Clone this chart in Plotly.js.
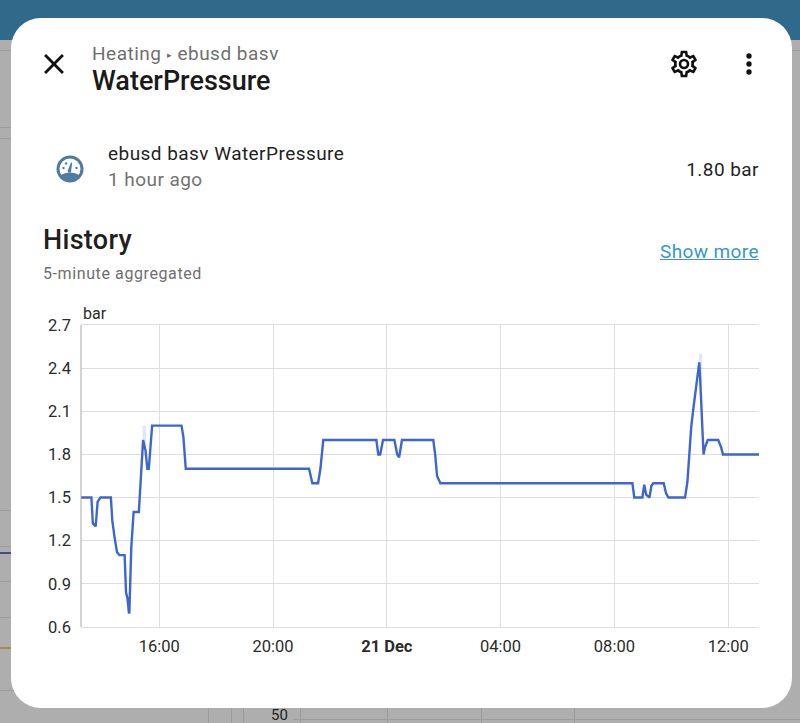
<!DOCTYPE html>
<html><head><meta charset="utf-8">
<script src="https://cdn.plot.ly/plotly-3.0.1.min.js"></script>
<style>
html,body{margin:0;padding:0;width:800px;height:723px;overflow:hidden;background:#aeaeae;font-family:Roboto,sans-serif}
#top{position:absolute;left:0;top:0;width:800px;height:40px;background:#2f6a8b}
.bg{position:absolute;background:#9c9c9c}
#card{position:absolute;left:11px;top:18px;width:781px;height:690px;background:#fff;border-radius:30px}
.t{position:absolute;white-space:nowrap;line-height:1}
#chart{position:absolute;left:0;top:0;width:800px;height:723px}
svg{position:absolute}
</style></head><body>
<div id="top"></div>
<div class="bg" style="left:0;top:50px;width:800px;height:1px"></div>
<div class="bg" style="left:0;top:127px;width:11px;height:1px"></div>
<div class="bg" style="left:0;top:138px;width:11px;height:1px"></div>
<div class="bg" style="left:0;top:510px;width:11px;height:1px"></div>
<div class="bg" style="left:0;top:546px;width:11px;height:1px"></div>
<div class="bg" style="left:0;top:581px;width:11px;height:1px"></div>
<div class="bg" style="left:0;top:617px;width:11px;height:1px"></div>
<div class="bg" style="left:0;top:690px;width:30px;height:1px"></div>
<div class="bg" style="left:0;top:552px;width:11px;height:2px;background:#3f4f8e"></div>
<div class="bg" style="left:0;top:647px;width:11px;height:2px;background:#a98a45"></div>
<div class="bg" style="left:293px;top:719px;width:507px;height:1px"></div>
<div class="bg" style="left:208px;top:708px;width:1px;height:15px"></div>
<div class="bg" style="left:231px;top:708px;width:1px;height:15px"></div>
<div class="bg" style="left:243px;top:708px;width:1px;height:15px"></div>
<div class="bg" style="left:300px;top:708px;width:1px;height:15px"></div>
<div class="bg" style="left:387px;top:708px;width:1px;height:15px"></div>
<div class="bg" style="left:481px;top:708px;width:1px;height:15px"></div>
<div class="bg" style="left:574px;top:708px;width:1px;height:15px"></div>
<div class="t" style="left:271px;top:708px;font-size:15px;color:#222">50</div>
<div id="card"></div>

<svg style="left:37px;top:47px" width="34" height="34" viewBox="0 0 24 24"><path fill="#111" d="M19,6.41L17.59,5L12,10.59L6.41,5L5,6.41L10.59,12L5,17.59L6.41,19L12,13.41L17.59,19L19,17.59L13.41,12L19,6.41Z"/></svg>
<div class="t" style="left:92px;top:44px;font-size:19px;letter-spacing:.5px;color:#6f6f6f">Heating <span style="font-size:9px;vertical-align:2px">▸</span> ebusd basv</div>
<div class="t" style="left:92px;top:68px;font-size:27px;font-weight:500;color:#1a1a1a">WaterPressure</div>
<svg style="left:668px;top:48px" width="32" height="32" viewBox="0 0 24 24"><path fill="#111" d="M12,8A4,4 0 0,1 16,12A4,4 0 0,1 12,16A4,4 0 0,1 8,12A4,4 0 0,1 12,8M12,10A2,2 0 0,0 10,12A2,2 0 0,0 12,14A2,2 0 0,0 14,12A2,2 0 0,0 12,10M10,22C9.75,22 9.54,21.82 9.5,21.58L9.13,18.93C8.5,18.68 7.96,18.34 7.44,17.94L4.95,18.95C4.73,19.03 4.46,18.95 4.34,18.73L2.34,15.27C2.21,15.05 2.27,14.78 2.46,14.63L4.57,12.97L4.5,12L4.57,11L2.46,9.37C2.27,9.22 2.21,8.95 2.34,8.73L4.34,5.27C4.46,5.05 4.73,4.96 4.95,5.05L7.44,6.05C7.96,5.66 8.5,5.32 9.13,5.07L9.5,2.42C9.54,2.18 9.75,2 10,2H14C14.25,2 14.46,2.18 14.5,2.42L14.87,5.07C15.5,5.32 16.04,5.66 16.56,6.05L19.05,5.05C19.27,4.96 19.54,5.05 19.66,5.27L21.66,8.73C21.79,8.95 21.73,9.22 21.54,9.37L19.43,11L19.5,12L19.43,13L21.54,14.63C21.73,14.78 21.79,15.05 21.66,15.27L19.66,18.73C19.54,18.95 19.27,19.04 19.05,18.95L16.56,17.95C16.04,18.34 15.5,18.68 14.87,18.93L14.5,21.58C14.46,21.82 14.25,22 14,22H10M11.25,4L10.88,6.61C9.68,6.86 8.62,7.5 7.85,8.39L5.44,7.35L4.69,8.65L6.8,10.2C6.4,11.37 6.4,12.64 6.8,13.8L4.68,15.36L5.43,16.66L7.86,15.62C8.63,16.5 9.68,17.14 10.87,17.38L11.24,20H12.76L13.13,17.39C14.32,17.14 15.37,16.5 16.14,15.62L18.57,16.66L19.32,15.36L17.2,13.81C17.6,12.64 17.6,11.37 17.2,10.2L19.31,8.65L18.56,7.35L16.15,8.39C15.38,7.5 14.32,6.86 13.12,6.62L12.75,4H11.25Z"/></svg>
<svg style="left:733px;top:48px" width="32" height="32" viewBox="0 0 24 24"><path fill="#111" d="M12,16A2,2 0 0,1 14,18A2,2 0 0,1 12,20A2,2 0 0,1 10,18A2,2 0 0,1 12,16M12,10A2,2 0 0,1 14,12A2,2 0 0,1 12,14A2,2 0 0,1 10,12A2,2 0 0,1 12,10M12,4A2,2 0 0,1 14,6A2,2 0 0,1 12,8A2,2 0 0,1 10,6A2,2 0 0,1 12,4Z"/></svg>

<svg style="left:56px;top:155px" width="28" height="28" viewBox="0 0 28 28">
<circle cx="14" cy="14" r="13.5" fill="#4f7ba3"/><circle cx="14" cy="14" r="10.5" fill="#fff"/>
<path fill="#4f7ba3" d="M4.500 20.500C7.500 18.300 10.500 17.500 14 17.500s6.500.8 9.500 3C21 24 17.800 26 14 26s-7-2-9.500-5.500Z"/>
<path fill="#4f7ba3" d="M15 7.500l1.200.3-1 7.500a1.800 1.800 0 1 1-3-.7Z"/>
<circle cx="7.500" cy="13" r="1.200" fill="#4f7ba3"/><circle cx="10" cy="8.500" r="1.200" fill="#4f7ba3"/><circle cx="20.500" cy="13" r="1.200" fill="#4f7ba3"/>
</svg>
<div class="t" style="left:108px;top:144px;font-size:19px;letter-spacing:.45px;color:#1f1f1f">ebusd basv WaterPressure</div>
<div class="t" style="left:108px;top:170px;font-size:19px;letter-spacing:.45px;color:#727272">1 hour ago</div>
<div class="t" style="right:41px;top:160px;font-size:19px;letter-spacing:.45px;color:#1f1f1f">1.80 bar</div>
<div class="t" style="left:43px;top:227px;font-size:27px;font-weight:500;letter-spacing:.3px;color:#1f1f1f">History</div>
<div class="t" style="left:43px;top:266px;font-size:16px;letter-spacing:.6px;color:#6f6f6f">5-minute aggregated</div>
<div class="t" style="right:41px;top:242px;font-size:19px;letter-spacing:.4px;color:#3a97c9;text-decoration:underline">Show more</div>
<div id="chart"></div>
<script>
const times = ["2023-12-20 13:15","2023-12-20 13:37","2023-12-20 13:40","2023-12-20 13:46","2023-12-20 13:50","2023-12-20 13:56","2023-12-20 14:18","2023-12-20 14:21","2023-12-20 14:26","2023-12-20 14:31","2023-12-20 14:36","2023-12-20 14:47","2023-12-20 14:50","2023-12-20 14:53","2023-12-20 14:56","2023-12-20 14:57","2023-12-20 15:01","2023-12-20 15:06","2023-12-20 15:17","2023-12-20 15:21","2023-12-20 15:26","2023-12-20 15:31","2023-12-20 15:35","2023-12-20 15:38","2023-12-20 15:41","2023-12-20 15:45","2023-12-20 16:47","2023-12-20 16:51","2023-12-20 16:56","2023-12-20 21:16","2023-12-20 21:23","2023-12-20 21:35","2023-12-20 21:40","2023-12-20 21:46","2023-12-20 23:38","2023-12-20 23:42","2023-12-20 23:46","2023-12-20 23:52","2023-12-21 00:16","2023-12-21 00:22","2023-12-21 00:26","2023-12-21 00:32","2023-12-21 01:38","2023-12-21 01:42","2023-12-21 01:46","2023-12-21 01:53","2023-12-21 08:38","2023-12-21 08:42","2023-12-21 08:59","2023-12-21 09:03","2023-12-21 09:07","2023-12-21 09:14","2023-12-21 09:18","2023-12-21 09:22","2023-12-21 09:44","2023-12-21 09:49","2023-12-21 09:54","2023-12-21 10:29","2023-12-21 10:34","2023-12-21 10:38","2023-12-21 10:42","2023-12-21 10:47","2023-12-21 10:53","2023-12-21 10:59","2023-12-21 11:01","2023-12-21 11:04","2023-12-21 11:08","2023-12-21 11:11","2023-12-21 11:17","2023-12-21 11:39","2023-12-21 11:45","2023-12-21 11:49","2023-12-21 13:05"];
const pressure = [1.5,1.5,1.32,1.3,1.47,1.5,1.5,1.34,1.22,1.12,1.1,1.1,0.84,0.8,0.7,0.7,1.15,1.4,1.4,1.62,1.9,1.83,1.7,1.7,1.83,2.0,2.0,1.92,1.7,1.7,1.6,1.6,1.7,1.9,1.9,1.8,1.8,1.9,1.9,1.8,1.78,1.9,1.9,1.8,1.65,1.6,1.6,1.5,1.5,1.59,1.52,1.5,1.58,1.6,1.6,1.53,1.5,1.5,1.61,1.8,1.99,2.13,2.3,2.44,2.32,2.13,1.8,1.85,1.9,1.9,1.85,1.8,1.8];
const band1Times = ["2023-12-20 15:25","2023-12-20 15:32"];
const band1Low = [1.88,1.82];
const band1High = [2.0,2.0];
const band2Times = ["2023-12-21 10:58","2023-12-21 11:05"];
const band2Low = [2.4,2.2];
const band2High = [2.5,2.5];
const xTickVals = ["2023-12-20 16:00","2023-12-20 20:00","2023-12-21 00:00","2023-12-21 04:00","2023-12-21 08:00","2023-12-21 12:00"];
const xTickText = ["16:00","20:00","<b>21 Dec</b>","04:00","08:00","12:00"];
const yTickVals = [0.6,0.9,1.2,1.5,1.8,2.1,2.4,2.7];
const yTickText = ["0.6","0.9","1.2","1.5","1.8","2.1","2.4","2.7"];
const unit = "bar";

const bandColor = "rgba(66,103,214,0.16)";
const lineEdge = {width:0,color:bandColor};
const traces = [
 {x:band1Times,y:band1Low,mode:"lines",line:lineEdge,showlegend:false,hoverinfo:"skip"},
 {x:band1Times,y:band1High,mode:"lines",line:lineEdge,fill:"tonexty",fillcolor:bandColor,showlegend:false,hoverinfo:"skip"},
 {x:band2Times,y:band2Low,mode:"lines",line:lineEdge,showlegend:false,hoverinfo:"skip"},
 {x:band2Times,y:band2High,mode:"lines",line:lineEdge,fill:"tonexty",fillcolor:bandColor,showlegend:false,hoverinfo:"skip"},
 {x:times,y:pressure,mode:"lines",line:{color:"#3f66cf",width:2.4},showlegend:false}
];
const layout = {
 width:800,height:723,paper_bgcolor:"rgba(0,0,0,0)",plot_bgcolor:"rgba(0,0,0,0)",
 margin:{l:81,r:41,t:325,b:96,pad:0},
 font:{family:"Roboto, sans-serif",size:16.5,color:"#2b2b2b"},
 showlegend:false,
 xaxis:{type:"date",range:["2023-12-20 13:15","2023-12-21 13:05"],tickmode:"array",tickvals:xTickVals,ticktext:xTickText,
  showgrid:true,gridcolor:"#dedede",gridwidth:1,zeroline:false,showline:true,linecolor:"#dedede",linewidth:1,mirror:true,ticks:"",tickangle:0,automargin:false,ticklabelstandoff:4},
 yaxis:{range:[0.6,2.7],tickmode:"array",tickvals:yTickVals,ticktext:yTickText,
  showgrid:true,gridcolor:"#dedede",gridwidth:1,zeroline:false,showline:false,ticks:"",automargin:false,ticklabelstandoff:9},
 shapes:[{type:"line",xref:"x domain",yref:"paper",x0:0,x1:0,y0:0,y1:1,line:{color:"#a8a8a8",width:1}}],
 annotations:[{text:unit,xref:"paper",yref:"paper",x:0,y:1,xanchor:"left",yanchor:"bottom",yshift:0,showarrow:false,font:{size:16,color:"#2b2b2b"}}]
};
Plotly.newPlot("chart",traces,layout,{displayModeBar:false,staticPlot:true});
</script>
</body></html>
